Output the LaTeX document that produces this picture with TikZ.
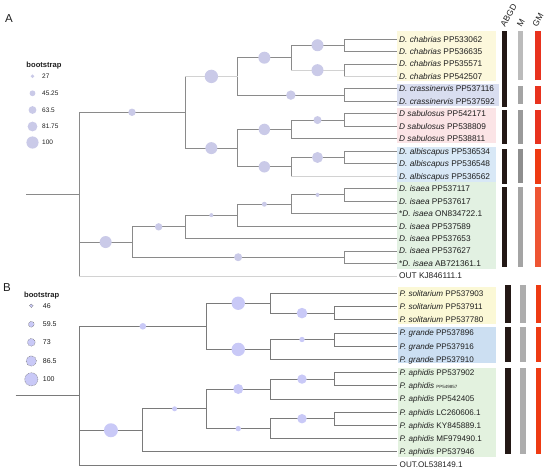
\documentclass[tikz,border=0pt]{standalone}
\usepackage{fontspec}
\setmainfont{Liberation Sans}
\usetikzlibrary{calc}
\definecolor{treeg}{HTML}{8A8A8A}
\definecolor{treel}{HTML}{D2D2D2}
\definecolor{treeb}{HTML}{7A7A7A}
\definecolor{bubA}{HTML}{CACAE8}
\definecolor{bubB}{HTML}{C9C9F7}
\definecolor{labc}{HTML}{1E1E1E}
\definecolor{bxChab}{HTML}{FCF8DC}
\definecolor{bxCras}{HTML}{D9DEF0}
\definecolor{bxSab}{HTML}{FBE4E6}
\definecolor{bxAlb}{HTML}{D8E8F6}
\definecolor{bxIsa}{HTML}{E2F1E2}
\definecolor{bxSol}{HTML}{FBF8D6}
\definecolor{bxGra}{HTML}{CCDFF2}
\definecolor{bxAph}{HTML}{E3F2DF}
\definecolor{barK}{HTML}{231815}
\definecolor{barG}{HTML}{ADADAD}
\definecolor{barGa}{HTML}{BBBBBB}
\definecolor{barGb}{HTML}{A4A4A4}
\definecolor{barGc}{HTML}{9A9A9A}
\definecolor{barGd}{HTML}{8E8E8E}
\definecolor{barR}{HTML}{E8321E}
\definecolor{barRa}{HTML}{EE3A12}
\definecolor{barRb}{HTML}{EE5533}
\newcommand\boot[4]{\fill[#4] ($(#1 |- #2)!.5!(#2)$) circle[radius=#3pt];}
\begin{document}
\begin{tikzpicture}[x=1pt,y=-1pt,
  tline/.style={draw=treeg, line width=0.8pt},
  tlineB/.style={draw=treeb, line width=0.8pt},
  lite/.style={draw=treel, line width=0.8pt},
  lab/.style={anchor=west, inner xsep=2pt, inner ysep=0pt, text height=6pt, text depth=0pt, font=\fontsize{8.3}{10}\selectfont, text=labc},
  labB/.style={lab, inner xsep=2.5pt, font=\fontsize{8.1}{10}\selectfont},
  hdr/.style={rotate=60, anchor=west, inner sep=0pt, font=\fontsize{8.5}{10}\selectfont, text=labc},
  legt/.style={anchor=west, inner sep=0pt, font=\bfseries\fontsize{7.6}{8}\selectfont, text=labc},
  legn/.style={anchor=west, inner sep=0pt, font=\fontsize{6.5}{7}\selectfont, text=labc},
  legnB/.style={anchor=west, inner sep=0pt, font=\fontsize{7}{8}\selectfont, text=labc},
  pan/.style={inner sep=0pt, font=\fontsize{11.5}{13}\selectfont, text=labc},
  legc/.style={draw=gray!90!black, dashed, dash pattern=on 0.8pt off 0.8pt, line width=0.4pt, fill=bubB}
]
\useasboundingbox (0,0) rectangle (550,472);

% ---------- panel labels ----------
\node[pan] (pA) at (9,19) {A};
\node[pan] (pB) at (7,287.5) {B};

% ---------- column headers ----------
\node[hdr] (hABGD) at (502.5,26) {ABGD};
\node[hdr] (hM) at (519,26) {M};
\node[hdr] (hGM) at (534.5,26) {GM};

% ---------- clade boxes ----------
\fill[bxChab] (397,30.7) rectangle (496,81);
\fill[bxCras] (397,84) rectangle (499,106);
\fill[bxSab] (397,107.7) rectangle (496,143.3);
\fill[bxAlb] (397,146.7) rectangle (496,182.3);
\fill[bxIsa] (397,182.3) rectangle (496,269);
\fill[bxSol] (397.7,286.7) rectangle (496,324);
\fill[bxGra] (397.7,327.3) rectangle (496,363.3);
\fill[bxAph] (397.7,368.3) rectangle (496,456.7);

% ---------- bars A ----------
\fill[barK] (501.7,30.7) rectangle (507.3,106.7);
\fill[barK] (501.7,110) rectangle (507.3,144);
\fill[barK] (501.7,149.3) rectangle (507.3,184.3);
\fill[barK] (501.7,186.7) rectangle (507.3,267.3);
\fill[barGa] (518.3,30.7) rectangle (523.3,80);
\fill[barGb] (518.3,86) rectangle (523.3,104);
\fill[barGc] (518.3,110) rectangle (523.3,144);
\fill[barGd] (518.3,149.3) rectangle (523.3,183.3);
\fill[barGb] (518.3,186.7) rectangle (523.3,267.3);
\fill[barR] (535.3,30.7) rectangle (541,80);
\fill[barR] (535.3,86) rectangle (541,104);
\fill[barR] (535.3,110) rectangle (541,144);
\fill[barRa] (535.3,149.3) rectangle (541,184);
\fill[barRb] (535.3,186.7) rectangle (541,267.3);
% ---------- bars B ----------
\fill[barK] (505,285) rectangle (511,323.3);
\fill[barK] (505,327.3) rectangle (511,362.3);
\fill[barK] (505,368.3) rectangle (511,454);
\fill[barG] (520.3,285) rectangle (526,323.3);
\fill[barG] (520.3,327.3) rectangle (526,362.3);
\fill[barG] (520.3,368.3) rectangle (526,454);
\fill[barRa] (535.7,285) rectangle (541.3,323.3);
\fill[barRa] (535.7,327.3) rectangle (541.3,362.3);
\fill[barRa] (535.7,368.3) rectangle (541.3,454);

% ---------- leaf labels A ----------
\node[lab] (la0) at (397,39) {\textit{D. chabrias} PP533062};
\node[lab] (la1) at (397,51.47) {\textit{D. chabrias} PP536635};
\node[lab] (la2) at (397,63.94) {\textit{D. chabrias} PP535571};
\node[lab] (la3) at (397,76.41) {\textit{D. chabrias} PP542507};
\node[lab] (la4) at (397,88.88) {\textit{D. crassinervis} PP537116};
\node[lab] (la5) at (397,101.35) {\textit{D. crassinervis} PP537592};
\node[lab] (la6) at (397,113.82) {\textit{D sabulosus} PP542171};
\node[lab] (la7) at (397,126.29) {\textit{D sabulosus} PP538809};
\node[lab] (la8) at (397,138.76) {\textit{D sabulosus} PP538811};
\node[lab] (la9) at (397,151.23) {\textit{D. albiscapus} PP536534};
\node[lab] (la10) at (397,163.7) {\textit{D. albiscapus} PP536548};
\node[lab] (la11) at (397,176.17) {\textit{D. albiscapus} PP536562};
\node[lab] (la12) at (397,188.64) {\textit{D. isaea} PP537117};
\node[lab] (la13) at (397,201.11) {\textit{D. isaea} PP537617};
\node[lab] (la14) at (397,213.58) {*\textit{D. isaea} ON834722.1};
\node[lab] (la15) at (397,226.05) {\textit{D. isaea} PP537589};
\node[lab] (la16) at (397,238.52) {\textit{D. isaea} PP537653};
\node[lab] (la17) at (397,250.99) {\textit{D. isaea} PP537627};
\node[lab] (la18) at (397,263.46) {*\textit{D. isaea} AB721361.1};
\node[lab] (la19) at (397,275.93) {OUT KJ846111.1};

% ---------- internal nodes A ----------
\coordinate (a0) at (26,194.1);
\coordinate (a1) at (79,194.1);
\coordinate (aIn) at (185,112.26);
\coordinate (aUp) at (237.7,76.4);
\coordinate (aChab) at (291,57.71);
\coordinate (aCh1) at (344,45.24);
\coordinate (aCh2) at (344,70.18);
\coordinate (aCras) at (344,95.12);
\coordinate (aLow) at (237.7,148.12);
\coordinate (aSab) at (291,129.41);
\coordinate (aSab2) at (344,120.06);
\coordinate (aAlb) at (291,166.82);
\coordinate (aAlb2) at (344,157.47);
\coordinate (aIs) at (132.3,242.03);
\coordinate (aIs1) at (185,226.83);
\coordinate (aIs2) at (237.7,215.14);
\coordinate (aIs3) at (291,204.23);
\coordinate (aIs4) at (344,194.88);
\coordinate (aIs5) at (344,257.23);

% ---------- edges A ----------
\draw[tline] (a0) -- (a1);
\draw[tline] (a1) |- (aIn);
\draw[tline] (aIn) |- (aUp);
\draw[tline] (aUp) |- (aChab);
\draw[tline] (aChab) |- (aCh1);
\draw[tline] (aCh1) |- (la0.west);
\draw[tline] (aCh1) |- (la1.west);
\draw[tline] (aChab) |- (aCh2);
\draw[tline] (aCh2) |- (la2.west);
\draw[tline] (aCh2) |- (la3.west);
\draw[tline] (aUp) |- (aCras);
\draw[tline] (aCras) |- (la4.west);
\draw[tline] (aCras) |- (la5.west);
\draw[tline] (aIn) |- (aLow);
\draw[tline] (aLow) |- (aSab);
\draw[tline] (aSab) |- (aSab2);
\draw[tline] (aSab2) |- (la6.west);
\draw[tline] (aSab2) |- (la7.west);
\draw[tline] (aSab) |- (la8.west);
\draw[tline] (aLow) |- (aAlb);
\draw[tline] (aAlb) |- (aAlb2);
\draw[tline] (aAlb2) |- (la9.west);
\draw[tline] (aAlb2) |- (la10.west);
\draw[tline] (aAlb) |- (la11.west);
\draw[tline] (a1) |- (aIs);
\draw[tline] (aIs) |- (aIs1);
\draw[tline] (aIs1) |- (aIs2);
\draw[tline] (aIs2) |- (aIs3);
\draw[tline] (aIs3) |- (aIs4);
\draw[tline] (aIs4) |- (la12.west);
\draw[tline] (aIs4) |- (la13.west);
\draw[tline] (aIs3) |- (la14.west);
\draw[tline] (aIs2) |- (la15.west);
\draw[tline] (aIs1) |- (la16.west);
\draw[tline] (aIs) |- (aIs5);
\draw[tline] (aIs5) |- (la17.west);
\draw[tline] (aIs5) |- (la18.west);
\draw[tline] (a1) |- (la19.west);
% lighter branches
\draw[lite] (aIn |- aUp) -- (aUp);
\draw[lite] (aChab |- aCh2) -- (aCh2);
\draw[lite] (aCh2 |- la3.west) -- (la3.west);
\draw[lite] (aAlb |- la11.west) -- (la11.west);
\draw[lite] (a1 |- la19.west) -- (la19.west);

% ---------- bootstrap circles A ----------
\boot{a1}{aIn}{3.7}{bubA}
\boot{aIn}{aUp}{6.7}{bubA}
\boot{aUp}{aChab}{6}{bubA}
\boot{aChab}{aCh1}{6}{bubA}
\boot{aChab}{aCh2}{6}{bubA}
\boot{aUp}{aCras}{4.7}{bubA}
\boot{aIn}{aLow}{6}{bubA}
\boot{aLow}{aSab}{5.7}{bubA}
\boot{aSab}{aSab2}{4}{bubA}
\boot{aLow}{aAlb}{5.7}{bubA}
\boot{aAlb}{aAlb2}{5.5}{bubA}
\boot{a1}{aIs}{6}{bubA}
\boot{aIs}{aIs1}{3.7}{bubA}
\boot{aIs1}{aIs2}{2}{bubA}
\boot{aIs2}{aIs3}{2.5}{bubA}
\boot{aIs3}{aIs4}{2}{bubA}
\boot{aIs}{aIs5}{4}{bubA}

% ---------- legend A ----------
\node[legt] (bsA) at (26.3,65.7) {bootstrap};
\fill[bubA] (32.5,76.3) circle[radius=1.9pt];
\fill[bubA] (32.5,93.3) circle[radius=2.9pt];
\fill[bubA] (32.5,110) circle[radius=3.9pt];
\fill[bubA] (32.5,126.5) circle[radius=4.9pt];
\fill[bubA] (32.5,142.5) circle[radius=6.1pt];
\node[legn] (nA1) at (42,76.3) {27};
\node[legn] (nA2) at (42,93.3) {45.25};
\node[legn] (nA3) at (42,110) {63.5};
\node[legn] (nA4) at (42,126.5) {81.75};
\node[legn] (nA5) at (42,142.5) {100};

% ---------- leaf labels B ----------
\node[labB] (lb0) at (397,293.3) {\textit{P. solitarium} PP537903};
\node[labB] (lb1) at (397,306.5) {\textit{P. solitarium} PP537911};
\node[labB] (lb2) at (397,319.7) {\textit{P. solitarium} PP537780};
\node[labB] (lb3) at (397,332.9) {\textit{P. grande} PP537896};
\node[labB] (lb4) at (397,346.1) {\textit{P. grande} PP537916};
\node[labB] (lb5) at (397,359.3) {\textit{P. grande} PP537910};
\node[labB] (lb6) at (397,372.5) {\textit{P. aphidis} PP537902};
\node[labB] (lb7) at (397,385.7) {\textit{P. aphidis} {\fontsize{4.5}{5}\selectfont PP549857}};
\node[labB] (lb8) at (397,398.9) {\textit{P. aphidis} PP542405};
\node[labB] (lb9) at (397,412.1) {\textit{P. aphidis} LC260606.1};
\node[labB] (lb10) at (397,425.3) {\textit{P. aphidis} KY845889.1};
\node[labB] (lb11) at (397,438.5) {\textit{P. aphidis} MF979490.1};
\node[labB] (lb12) at (397,451.7) {\textit{P. aphidis} PP537946};
\node[labB] (lb13) at (397,464.9) {OUT.OL538149.1};

% ---------- internal nodes B ----------
\coordinate (b0) at (15.7,395.6);
\coordinate (b1) at (79.2,395.6);
\coordinate (bA) at (206.5,326.3);
\coordinate (bSol) at (270,303.2);
\coordinate (bSol2) at (334,313.1);
\coordinate (bGra) at (270,349.4);
\coordinate (bGra2) at (334,339.5);
\coordinate (bB) at (142.7,430.25);
\coordinate (bB1) at (206.5,408.8);
\coordinate (bB1a) at (270,389);
\coordinate (bAp1) at (334,379.1);
\coordinate (bB1b) at (270,428.6);
\coordinate (bAp2) at (334,418.7);

% ---------- edges B ----------
\draw[tlineB] (b0) -- (b1);
\draw[tlineB] (b1) |- (bA);
\draw[tlineB] (bA) |- (bSol);
\draw[tlineB] (bSol) |- (lb0.west);
\draw[tlineB] (bSol) |- (bSol2);
\draw[tlineB] (bSol2) |- (lb1.west);
\draw[tlineB] (bSol2) |- (lb2.west);
\draw[tlineB] (bA) |- (bGra);
\draw[tlineB] (bGra) |- (bGra2);
\draw[tlineB] (bGra2) |- (lb3.west);
\draw[tlineB] (bGra2) |- (lb4.west);
\draw[tlineB] (bGra) |- (lb5.west);
\draw[tlineB] (b1) |- (bB);
\draw[tlineB] (bB) |- (bB1);
\draw[tlineB] (bB1) |- (bB1a);
\draw[tlineB] (bB1a) |- (bAp1);
\draw[tlineB] (bAp1) |- (lb6.west);
\draw[tlineB] (bAp1) |- (lb7.west);
\draw[tlineB] (bB1a) |- (lb8.west);
\draw[tlineB] (bB1) |- (bB1b);
\draw[tlineB] (bB1b) |- (bAp2);
\draw[tlineB] (bAp2) |- (lb9.west);
\draw[tlineB] (bAp2) |- (lb10.west);
\draw[tlineB] (bB1b) |- (lb11.west);
\draw[tlineB] (bB) |- (lb12.west);
\draw[tlineB] (b1) |- (lb13.west);

% ---------- bootstrap circles B ----------
\boot{b1}{bA}{3.3}{bubB}
\boot{bA}{bSol}{6.7}{bubB}
\boot{bSol}{bSol2}{5.3}{bubB}
\boot{bA}{bGra}{6.7}{bubB}
\boot{bGra}{bGra2}{2.7}{bubB}
\boot{b1}{bB}{7}{bubB}
\boot{bB}{bB1}{2.5}{bubB}
\boot{bB1}{bB1a}{5}{bubB}
\boot{bB1a}{bAp1}{4.7}{bubB}
\boot{bB1}{bB1b}{2.7}{bubB}
\boot{bB1b}{bAp2}{4.7}{bubB}

% ---------- legend B ----------
\node[legt] (bsB) at (24,295.7) {bootstrap};
\draw[legc] (31.3,305.7) circle[radius=1.9pt];
\draw[legc] (31.3,324.3) circle[radius=2.9pt];
\draw[legc] (31.3,342.3) circle[radius=3.9pt];
\draw[legc] (31.3,361) circle[radius=5.2pt];
\draw[legc] (31.3,379.3) circle[radius=6.6pt];
\node[legnB] (nB1) at (42.7,305.7) {46};
\node[legnB] (nB2) at (42.7,324.3) {59.5};
\node[legnB] (nB3) at (42.7,342.3) {73};
\node[legnB] (nB4) at (42.7,361) {86.5};
\node[legnB] (nB5) at (42.7,379.3) {100};
\end{tikzpicture}
\end{document}
